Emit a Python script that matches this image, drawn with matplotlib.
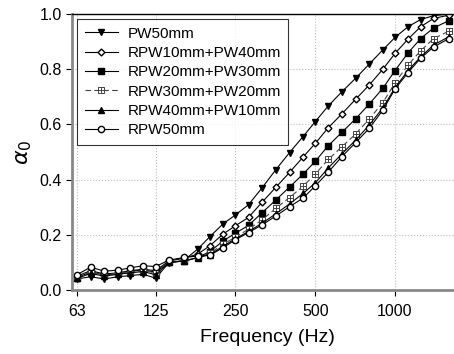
import numpy as np
import matplotlib
matplotlib.use('Agg')
import matplotlib.pyplot as plt
from matplotlib.path import Path

# 1/6-octave band centre frequencies (Hz)
freq = [63, 71, 80, 90, 100, 112, 125, 140, 160, 180, 200, 224, 250, 280, 315,
        355, 400, 450, 500, 560, 630, 710, 800, 900, 1000, 1120, 1250, 1400, 1600]

pw50 = [0.040, 0.048, 0.040, 0.048, 0.052, 0.057, 0.043, 0.098, 0.108, 0.148,
        0.193, 0.239, 0.272, 0.309, 0.370, 0.436, 0.498, 0.556, 0.610, 0.667,
        0.718, 0.767, 0.819, 0.870, 0.915, 0.954, 0.980, 0.994, 1.000]
rpw10_pw40 = [0.050, 0.070, 0.058, 0.062, 0.070, 0.075, 0.070, 0.105, 0.115, 0.130,
              0.160, 0.202, 0.233, 0.263, 0.318, 0.372, 0.426, 0.482, 0.531, 0.588,
              0.638, 0.691, 0.743, 0.800, 0.857, 0.909, 0.954, 0.984, 0.996]
rpw20_pw30 = [0.045, 0.065, 0.055, 0.060, 0.068, 0.072, 0.065, 0.100, 0.105, 0.118,
              0.139, 0.177, 0.206, 0.234, 0.280, 0.326, 0.373, 0.420, 0.466, 0.523,
              0.571, 0.620, 0.674, 0.731, 0.795, 0.859, 0.911, 0.950, 0.976]
rpw30_pw20 = [0.048, 0.062, 0.056, 0.060, 0.066, 0.070, 0.062, 0.100, 0.105, 0.117,
              0.133, 0.165, 0.192, 0.220, 0.254, 0.296, 0.335, 0.376, 0.420, 0.473,
              0.519, 0.565, 0.620, 0.679, 0.751, 0.815, 0.867, 0.911, 0.938]
rpw40_pw10 = [0.042, 0.060, 0.050, 0.057, 0.062, 0.067, 0.055, 0.100, 0.105, 0.117,
              0.128, 0.158, 0.186, 0.212, 0.242, 0.276, 0.312, 0.350, 0.388, 0.442,
              0.493, 0.543, 0.598, 0.660, 0.733, 0.795, 0.845, 0.888, 0.918]
rpw50 = [0.055, 0.083, 0.068, 0.072, 0.080, 0.088, 0.085, 0.108, 0.118, 0.123,
         0.126, 0.153, 0.182, 0.208, 0.236, 0.268, 0.302, 0.333, 0.377, 0.427,
         0.483, 0.534, 0.586, 0.652, 0.728, 0.788, 0.840, 0.881, 0.911]

xticks = [63, 125, 250, 500, 1000]
yticks = [0.0, 0.2, 0.4, 0.6, 0.8, 1.0]

plt.rcParams['font.family'] = ['Liberation Sans', 'DejaVu Sans']

# square marker with an inner grid (hatched square)
verts = [(-1, -1), (1, -1), (1, 1), (-1, 1), (-1, -1),
         (0, -1), (0, 1), (-1, 0), (1, 0)]
codes = [Path.MOVETO, Path.LINETO, Path.LINETO, Path.LINETO, Path.CLOSEPOLY,
         Path.MOVETO, Path.LINETO, Path.MOVETO, Path.LINETO]
grid_square = Path(verts, codes)

fig = plt.figure(figsize=(4.54, 3.54), dpi=100)
ax = fig.add_axes([72 / 454, 64 / 354, 390 / 454, 276 / 354])

lw = 0.8
ax.plot(freq, pw50, color='black', lw=lw, marker='v', ms=5, mfc='black', mec='black', label='PW50mm')
ax.plot(freq, rpw10_pw40, color='black', lw=lw, marker='D', ms=3.5, mfc='white', mec='black', label='RPW10mm+PW40mm')
ax.plot(freq, rpw20_pw30, color='black', lw=lw, marker='s', ms=4, mfc='black', mec='black', label='RPW20mm+PW30mm')
ax.plot(freq, rpw30_pw20, color='#444444', lw=lw, ls=(0, (5, 3)), marker=grid_square, ms=4.5,
        mfc='white', mec='#444444', mew=0.7, label='RPW30mm+PW20mm')
ax.plot(freq, rpw40_pw10, color='black', lw=lw, marker='^', ms=5, mfc='black', mec='black', label='RPW40mm+PW10mm')
ax.plot(freq, rpw50, color='black', lw=lw, marker='o', ms=4.5, mfc='white', mec='black', label='RPW50mm')

ax.set_xscale('log')
ax.set_xlim(60.4, 1790)
ax.set_ylim(0, 1.0)
ax.set_xticks(xticks)
ax.set_xticklabels([str(t) for t in xticks])
ax.minorticks_off()
ax.set_yticks(yticks)
ax.set_yticklabels(['%.1f' % t for t in yticks])
ax.tick_params(axis='both', direction='out', length=4, width=0.8, labelsize=11.5, colors='black')
ax.tick_params(axis='x', pad=6)

ax.grid(True, color='#bbbbbb', ls=':', lw=0.8)
ax.set_axisbelow(True)

ax.spines['left'].set_color('#888888')
ax.spines['left'].set_linewidth(2)
ax.spines['bottom'].set_color('#888888')
ax.spines['bottom'].set_linewidth(2)
ax.spines['top'].set_linewidth(1)
ax.spines['right'].set_visible(False)

ax.set_xlabel('Frequency (Hz)', fontsize=14, labelpad=7)
ax.set_ylabel(r'$\alpha_0$', fontsize=16)

leg = ax.legend(loc='upper left', bbox_to_anchor=(5 / 390, 271 / 276), borderaxespad=0,
                fontsize=11, frameon=True, fancybox=False, edgecolor='black',
                handlelength=2.2, labelspacing=0.35, borderpad=0.5, handletextpad=0.6)
leg.get_frame().set_linewidth(0.8)

fig.savefig('out.png', dpi=100)
